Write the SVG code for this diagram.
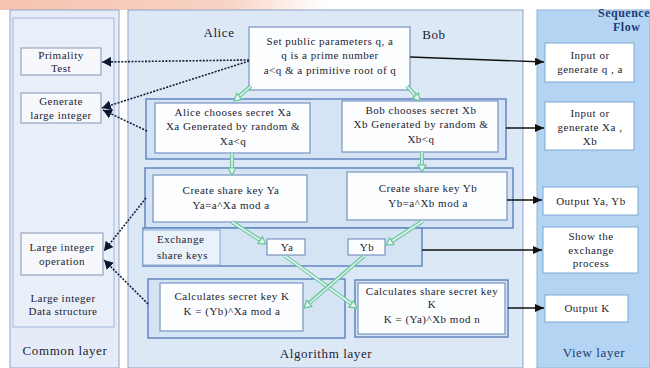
<svg xmlns="http://www.w3.org/2000/svg" width="650" height="368" viewBox="0 0 650 368">
<defs>
<linearGradient id="wm" x1="0" y1="0" x2="1" y2="0">
<stop offset="0" stop-color="#f6c3b0"/>
<stop offset="0.35" stop-color="#f8d3c4"/>
<stop offset="0.5" stop-color="#ffffff"/>
</linearGradient>
<marker id="ab" markerUnits="userSpaceOnUse" markerWidth="10" markerHeight="8" refX="9" refY="4" orient="auto">
<path d="M0,0 L9,4 L0,8 z" fill="#111"/>
</marker>
<marker id="ad" markerUnits="userSpaceOnUse" markerWidth="10" markerHeight="10" refX="9" refY="5" orient="auto">
<path d="M0,0 L9,5 L0,10 z" fill="#0d1830"/>
</marker>
<marker id="ag" markerUnits="userSpaceOnUse" markerWidth="10" markerHeight="10" refX="8" refY="5" orient="auto">
<path d="M1,1 L8,5 L1,9 z" fill="#e8f5f2" stroke="#5fc490" stroke-width="1.2"/>
</marker>
</defs>
<style>
text{font-family:"Liberation Serif","Times New Roman",serif;fill:#1c2433;font-size:11px;letter-spacing:0.5px;text-anchor:middle}
.lbl{font-size:13px;letter-spacing:0.6px}
.vl{font-size:13px;letter-spacing:0.6px;fill:#1f3b6e}
.sf{font-size:12px;font-weight:bold;fill:#1f3b78;text-anchor:start}
.ll{text-anchor:start}
.panel{stroke:#8ea3c9;stroke-width:1}
.grp{fill:#d5e4f5;stroke:#6287c2;stroke-width:1.5}
.box{fill:#fbfdff;stroke:#7893c2;stroke-width:1.2}
.cbox{fill:#f6f8fc;stroke:#8796b5;stroke-width:1}
.vbox{fill:#ffffff;stroke:#7fa6d2;stroke-width:1}
.dash{fill:none;stroke:#15203a;stroke-width:1.6;stroke-dasharray:2 1.4;marker-end:url(#ad)}
.solid{fill:none;stroke:#111;stroke-width:1.4;marker-end:url(#ab)}
.gout{fill:none;stroke:#6cc99b;stroke-width:4}
.gin{fill:none;stroke:#e4f2f7;stroke-width:1.6;marker-end:url(#ag)}
</style>
<rect x="0" y="0" width="650" height="368" fill="#ffffff"/>
<rect x="0" y="0" width="650" height="10" fill="url(#wm)"/>

<g id="common-layer">
<rect class="panel" x="10" y="10" width="109" height="358" fill="#e5ecf8"/>
<rect x="13" y="18" width="101" height="309" fill="#e9eff9" stroke="#a3b4d6"/>
<text x="63" y="302">Large integer</text>
<text x="63" y="315">Data structure</text>
<text class="lbl" x="65" y="355">Common layer</text>
</g>
<g id="algorithm-layer">
<rect class="panel" x="128" y="10" width="395" height="358" fill="#dce8f6"/>
<text class="lbl" x="219" y="37">Alice</text>
<text class="lbl" x="434" y="39">Bob</text>
<text class="lbl" x="326" y="358">Algorithm layer</text>
</g>
<g id="view-layer">
<rect x="537" y="10" width="113" height="358" fill="#b3d4f2" stroke="#8db2da"/>
<text class="sf" x="598" y="17">Sequence</text>
<text class="sf" x="613" y="31">Flow</text>
<text class="vl" x="594" y="357">View layer</text>
</g>

<g id="primality-test">
<rect class="cbox" x="21" y="48" width="80" height="27"/>
<text x="61" y="59">Primality</text>
<text x="61" y="72">Test</text>
</g>
<g id="generate-large-integer">
<rect class="cbox" x="21" y="93" width="80" height="30"/>
<text x="61" y="105">Generate</text>
<text x="61" y="119">large integer</text>
</g>
<g id="large-integer-operation">
<rect class="cbox" x="21" y="233" width="82" height="42"/>
<text x="62" y="251">Large integer</text>
<text x="62" y="265">operation</text>
</g>

<g id="set-public-parameters">
<rect class="box" x="249" y="27" width="161" height="63"/>
<text x="330" y="45">Set public parameters q, a</text>
<text x="330" y="59">q  is a prime number</text>
<text x="330" y="74">a&lt;q &amp; a primitive root of q</text>
</g>

<g id="choose-secret-row">
<rect class="grp" x="146" y="99" width="360" height="60"/>
</g>
<g id="alice-choose">
<rect class="box" x="155" y="103" width="155" height="50"/>
<text x="233" y="116">Alice chooses secret Xa</text>
<text x="233" y="130">Xa Generated by random &amp;</text>
<text x="233" y="145">Xa&lt;q</text>
</g>
<g id="bob-choose">
<rect class="box" x="342" y="101" width="156" height="51"/>
<text x="421" y="114">Bob chooses secret Xb</text>
<text x="421" y="128">Xb  Generated by random &amp;</text>
<text x="421" y="143">Xb&lt;q</text>
</g>

<g id="create-key-row">
<rect class="grp" x="145" y="168" width="368" height="60"/>
</g>
<g id="alice-create">
<rect class="box" x="153" y="175" width="154" height="47"/>
<text x="231" y="194">Create share key Ya</text>
<text x="231" y="209">Ya=a^Xa mod a</text>
</g>
<g id="bob-create">
<rect class="box" x="347" y="172" width="160" height="48"/>
<text x="428" y="192">Create share key Yb</text>
<text x="428" y="207">Yb=a^Xb mod a</text>
</g>

<g id="exchange-row">
<rect class="grp" x="143" y="228" width="279" height="38"/>
<rect x="143" y="230" width="77" height="35" fill="#e9f1fb" stroke="#8ea7d0"/>
<text class="ll" x="157" y="243">Exchange</text>
<text class="ll" x="157" y="259">share keys</text>
</g>
<g id="ya">
<rect class="box" x="267" y="239" width="38" height="16"/>
<text x="287" y="251">Ya</text>
</g>
<g id="yb">
<rect class="box" x="348" y="239" width="37" height="16"/>
<text x="367" y="251">Yb</text>
</g>

<g id="alice-calc">
<rect class="grp" x="148" y="279" width="197" height="59"/>
<rect class="box" x="160" y="283" width="143" height="48"/>
<text x="232" y="300">Calculates secret key K</text>
<text x="232" y="315">K =  (Yb)^Xa mod a</text>
</g>
<g id="bob-calc">
<rect class="grp" x="355" y="280" width="153" height="57"/>
<rect class="box" x="358" y="283" width="147" height="51"/>
<text x="432" y="295">Calculates share secret key</text>
<text x="432" y="308">K</text>
<text x="432" y="323">K =  (Ya)^Xb mod n</text>
</g>

<g id="input-q-a">
<rect class="vbox" x="545" y="43" width="89" height="39"/>
<text x="590" y="59">Input or</text>
<text x="590" y="73">generate q , a</text>
</g>
<g id="input-xa-xb">
<rect class="vbox" x="545" y="102" width="89" height="48"/>
<text x="590" y="117">Input or</text>
<text x="590" y="131">generate Xa ,</text>
<text x="590" y="145">Xb</text>
</g>
<g id="output-ya-yb">
<rect class="vbox" x="543" y="187" width="95" height="28"/>
<text x="591" y="205">Output Ya,  Yb</text>
</g>
<g id="show-exchange">
<rect class="vbox" x="543" y="227" width="95" height="46"/>
<text x="591" y="240">Show the</text>
<text x="591" y="254">exchange</text>
<text x="591" y="267">process</text>
</g>
<g id="output-k">
<rect class="vbox" x="545" y="295" width="83" height="27"/>
<text x="587" y="312">Output K</text>
</g>

<g id="connectors">
<path class="dash" d="M249,60 L102,62"/>
<path class="dash" d="M249,61 L102,108"/>
<path class="dash" d="M147,131 L103,110"/>
<path class="dash" d="M146,198 L104,251"/>
<path class="dash" d="M148,304 L104,260"/>
<path class="solid" d="M410,57 L544,62"/>
<path class="solid" d="M506,128 L544,128"/>
<path class="solid" d="M507,200 L542,200"/>
<path class="solid" d="M422,250 L542,250"/>
<path class="solid" d="M508,308 L544,308"/>
<path class="gout" d="M251,86 L237,98"/><path class="gin" d="M251,86 L234,101"/>
<path class="gout" d="M407,86 L418,98"/><path class="gin" d="M407,86 L420,101"/>
<path class="gout" d="M232,153 L232,171"/><path class="gin" d="M232,153 L232,175"/>
<path class="gout" d="M422,152 L422,168"/><path class="gin" d="M422,152 L422,172"/>
<path class="gout" d="M232,222 L263,242"/><path class="gin" d="M232,222 L266,244"/>
<path class="gout" d="M423,221 L389,243"/><path class="gin" d="M423,221 L386,245"/>
<path class="gout" d="M285,256 L353,305"/><path class="gin" d="M285,256 L357,308"/>
<path class="gout" d="M364,256 L307,305"/><path class="gin" d="M364,256 L304,308"/>
</g>
</svg>
